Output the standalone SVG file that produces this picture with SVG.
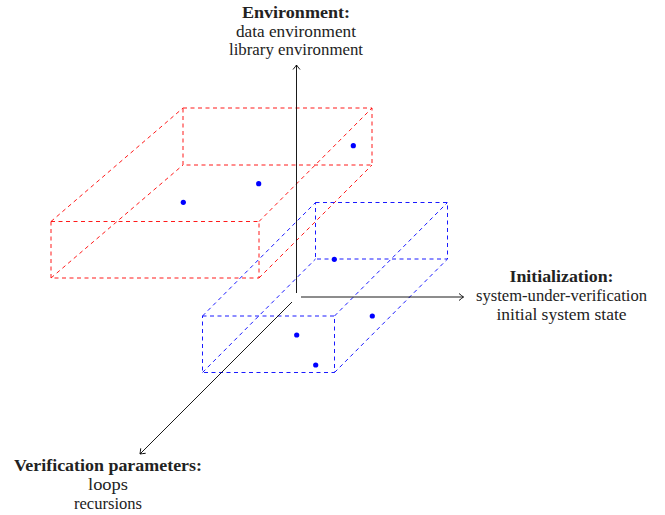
<svg xmlns="http://www.w3.org/2000/svg" width="665" height="515" viewBox="0 0 665 515">
<style>
.red{fill:none;stroke:#ff0000;stroke-width:0.9;stroke-dasharray:4,3.5}
.blue{fill:none;stroke:#0000ff;stroke-width:0.9;stroke-dasharray:4,3.5}
.dot{fill:#0000ff;stroke:none}
.axis{fill:none;stroke:#000;stroke-width:0.9;marker-end:url(#arr)}
.t{font-family:"Liberation Serif","DejaVu Serif",serif;font-size:16px;fill:#222;text-anchor:middle}
.b{font-weight:bold}
</style>
<defs>
<marker id="arr" markerUnits="userSpaceOnUse" markerWidth="12" markerHeight="12" viewBox="-6 -6 12 12" refX="0" refY="0" orient="auto">
<path d="M-4.5,-3.5 Q-1.5,-1 0,0 Q-1.5,1 -4.5,3.5" fill="none" stroke="#000" stroke-width="0.9"/>
</marker>
</defs>
<rect width="665" height="515" fill="#fff"/>
<g id="red-box">
<rect class="red" x="51" y="221.5" width="208" height="56.5"/>
<rect class="red" x="183" y="108" width="189" height="57"/>
<path class="red" d="M51,221.5 L183,108 M51,278 L183,165 M259,221.5 L372,108 M259,278 L372,165"/>
<circle class="dot" cx="353.3" cy="145.7" r="2.6"/>
<circle class="dot" cx="258.7" cy="183.7" r="2.6"/>
<circle class="dot" cx="183.3" cy="202.3" r="2.6"/>
</g>
<g id="blue-box">
<rect class="blue" x="202.5" y="316" width="132" height="56.5"/>
<rect class="blue" x="315.5" y="202.5" width="132" height="56.5"/>
<path class="blue" d="M202.5,316 L315.5,202.5 M202.5,372.5 L315.5,259 M334.5,316 L447.5,202.5 M334.5,372.5 L447.5,259"/>
<circle class="dot" cx="334.3" cy="259.3" r="2.6"/>
<circle class="dot" cx="372.3" cy="316" r="2.6"/>
<circle class="dot" cx="296.7" cy="335" r="2.6"/>
<circle class="dot" cx="315.7" cy="365" r="2.6"/>
</g>
<g id="connectors">
<path class="axis" d="M296.5,293 L296.5,65"/>
<path class="axis" d="M301,297 L463.5,297"/>
<path class="axis" d="M292,302 L140,454"/>
</g>
<g id="environment">
<text class="t b" x="296" y="18" textLength="108" lengthAdjust="spacingAndGlyphs">Environment:</text>
<text class="t" x="296" y="36.5" textLength="120" lengthAdjust="spacingAndGlyphs">data environment</text>
<text class="t" x="296" y="55" textLength="134" lengthAdjust="spacingAndGlyphs">library environment</text>
</g>
<g id="initialization">
<text class="t b" x="561.5" y="282" textLength="104" lengthAdjust="spacingAndGlyphs">Initialization:</text>
<text class="t" x="561.5" y="301" textLength="171" lengthAdjust="spacingAndGlyphs">system-under-verification</text>
<text class="t" x="561.5" y="320" textLength="130" lengthAdjust="spacingAndGlyphs">initial system state</text>
</g>
<g id="verification">
<text class="t b" x="108" y="471" textLength="188" lengthAdjust="spacingAndGlyphs">Verification parameters:</text>
<text class="t" x="108" y="490" textLength="40" lengthAdjust="spacingAndGlyphs">loops</text>
<text class="t" x="108" y="508.5" textLength="68" lengthAdjust="spacingAndGlyphs">recursions</text>
</g>
</svg>
